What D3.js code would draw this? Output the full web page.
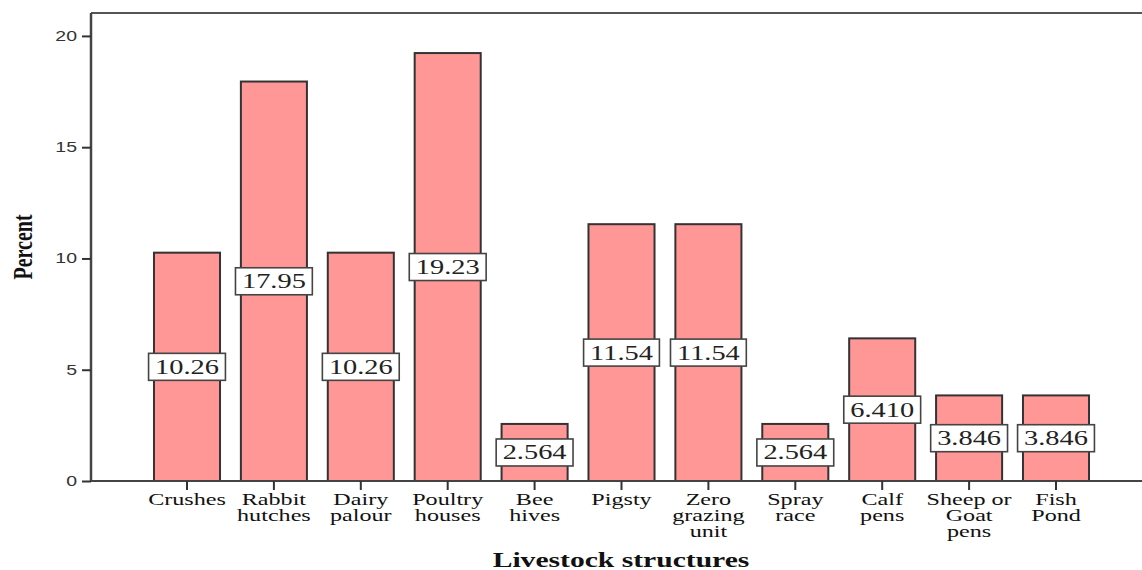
<!DOCTYPE html>
<html>
<head>
<meta charset="utf-8">
<script src="https://cdn.jsdelivr.net/npm/d3@7"></script>
<style>
  html, body { margin: 0; padding: 0; background: #fff; }
  svg { display: block; }
</style>
</head>
<body>
<svg id="chart" width="1142" height="570"></svg>
<script>
// Livestock structures — percentage of respondents
const categories = [
  ["Crushes"], ["Rabbit", "hutches"], ["Dairy", "palour"], ["Poultry", "houses"],
  ["Bee", "hives"], ["Pigsty"], ["Zero", "grazing", "unit"], ["Spray", "race"],
  ["Calf", "pens"], ["Sheep or", "Goat", "pens"], ["Fish", "Pond"]
];
const percents = [10.26, 17.95, 10.26, 19.23, 2.564, 11.54, 11.54, 2.564, 6.410, 3.846, 3.846];
const valueLabels = ["10.26", "17.95", "10.26", "19.23", "2.564", "11.54", "11.54", "2.564", "6.410", "3.846", "3.846"];
const yTicks = [0, 5, 10, 15, 20];

const svg = d3.select("#chart");
const W = 1142, H = 570;
const plotLeft = 91, plotTop = 13, plotBottom = 481;
const SX = 1.42; // wide lettering

const keys = categories.map(c => c.join(" "));
const x = d3.scaleBand().domain(keys).range([143.55, 1099.45])
  .paddingInner(0.24).paddingOuter(0.12);
const y = d3.scaleLinear().domain([0, 21.03]).range([plotBottom, plotTop]);

// horizontally stretched text
function wideText(parent, px, py, str, opts) {
  const g = parent.append("g").attr("transform", `translate(${px},${py}) scale(${opts.sx || SX},1)`);
  const t = g.append("text")
    .attr("text-anchor", opts.anchor || "middle")
    .attr("font-family", opts.family)
    .attr("font-size", opts.size)
    .attr("font-weight", opts.weight || "normal")
    .attr("fill", opts.fill || "#111")
    .attr("dominant-baseline", opts.baseline || "auto")
    .text(str);
  return { g, t };
}

// bars
svg.append("g").selectAll("rect").data(percents).join("rect")
  .attr("x", (d, i) => x(keys[i]))
  .attr("y", d => y(d))
  .attr("width", x.bandwidth())
  .attr("height", d => y(0) - y(d))
  .attr("fill", "#ff9797")
  .attr("stroke", "#333")
  .attr("stroke-width", 2);

// top frame line
svg.append("line").attr("x1", plotLeft).attr("x2", W).attr("y1", plotTop).attr("y2", plotTop)
  .attr("stroke", "#555").attr("stroke-width", 2);

// y axis
const yAxis = svg.append("g").attr("transform", `translate(${plotLeft},0)`)
  .call(d3.axisLeft(y).tickValues(yTicks).tickSize(9).tickFormat(""));
yAxis.select(".domain").attr("d", `M0,${plotTop}V${plotBottom}`).attr("stroke", "#444").attr("stroke-width", 2.5);
yAxis.selectAll(".tick line").attr("stroke", "#333").attr("stroke-width", 2);
yTicks.forEach(v => {
  wideText(svg, 77, y(v) + 1, String(v), {
    anchor: "end", family: "'Liberation Sans', Arial, sans-serif", size: 15, fill: "#333",
    baseline: "middle", sx: 1.3
  });
});

// x axis
const xAxis = svg.append("g").attr("transform", `translate(0,${plotBottom})`)
  .call(d3.axisBottom(x).tickSize(9).tickFormat(""));
xAxis.select(".domain").attr("d", `M${plotLeft},0H${W}`).attr("stroke", "#444").attr("stroke-width", 2);
xAxis.selectAll(".tick line").attr("stroke", "#333").attr("stroke-width", 2);

categories.forEach((lines, i) => {
  const cx = x(keys[i]) + x.bandwidth() / 2;
  lines.forEach((ln, j) => {
    wideText(svg, cx, 505 + j * 16, ln, {
      family: "'Liberation Serif', 'Times New Roman', serif", size: 17, fill: "#111"
    });
  });
});

// value labels in boxes
percents.forEach((v, i) => {
  const cx = x(keys[i]) + x.bandwidth() / 2;
  const cy = y(v / 2);
  const lab = svg.append("g");
  const rect = lab.append("rect");
  const { t } = wideText(lab, cx, cy + 7, valueLabels[i], {
    family: "'Liberation Serif', 'Times New Roman', serif", size: 20, fill: "#222"
  });
  const w = t.node().getComputedTextLength() * SX + 13;
  rect.attr("x", cx - w / 2).attr("y", cy - 13.5).attr("width", w).attr("height", 27)
    .attr("fill", "#fff").attr("stroke", "#444").attr("stroke-width", 1.6);
});

// axis titles
wideText(svg, 621, 567, "Livestock structures", {
  family: "'Liberation Serif', 'Times New Roman', serif", size: 20, weight: "bold", fill: "#111", sx: 1.48
});
const yt = svg.append("g").attr("transform", `translate(32,247) scale(1.4,1) rotate(-90)`);
yt.append("text").attr("text-anchor", "middle")
  .attr("font-family", "'Liberation Serif', 'Times New Roman', serif")
  .attr("font-size", 20).attr("font-weight", "bold").attr("fill", "#111")
  .text("Percent");
</script>
</body>
</html>
